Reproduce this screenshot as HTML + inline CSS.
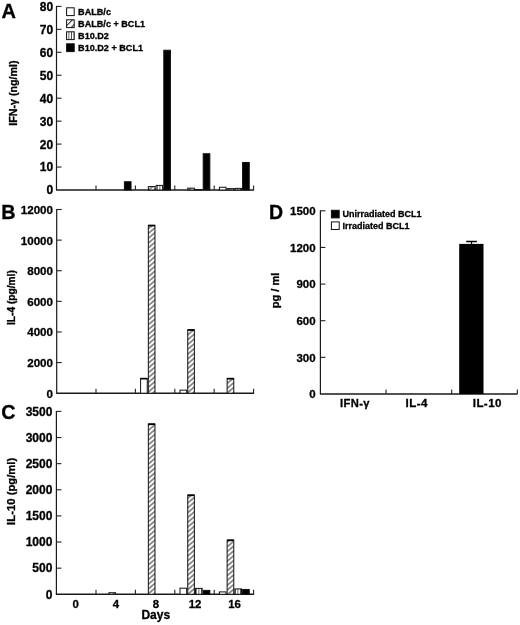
<!DOCTYPE html><html><head><meta charset="utf-8"><title>Figure</title><style>
html,body{margin:0;padding:0;background:#fff;}
svg{display:block;}
text{font-family:'Liberation Sans', Arial, Helvetica, sans-serif;font-weight:bold;fill:#000;stroke:#000;stroke-width:0.3px;}
.ax{stroke:#1a1a1a;stroke-width:1.2;}
.xa{stroke-width:1.6;}
.tk{stroke:#222;stroke-width:1.1;}
.bar{stroke:#111;stroke-width:1;}
</style></head><body>
<svg width="520" height="625" viewBox="0 0 520 625">
<defs>
<pattern id="hatch" patternUnits="userSpaceOnUse" width="3.68" height="3.68" patternTransform="rotate(-40)"><rect width="3.68" height="3.68" fill="#fff"/><line x1="0" y1="1.84" x2="3.68" y2="1.84" stroke="#000" stroke-width="0.85"/></pattern>
<pattern id="vstripe" patternUnits="userSpaceOnUse" width="2.6" height="4"><rect width="2.6" height="4" fill="#fff"/><line x1="1.3" y1="0" x2="1.3" y2="4" stroke="#333" stroke-width="0.8"/></pattern>
<pattern id="hatchL" patternUnits="userSpaceOnUse" width="4.5" height="4.5" patternTransform="rotate(-45)"><rect width="4.5" height="4.5" fill="#fff"/><line x1="0" y1="2.25" x2="4.5" y2="2.25" stroke="#222" stroke-width="1"/></pattern></defs>
<rect width="520" height="625" fill="#fff"/>
<text x="1.6" y="17.6" style="font-size:20px">A</text>
<line x1="56.5" y1="5.9" x2="56.5" y2="190" class="ax"/>
<line x1="56" y1="190" x2="254.1" y2="190" class="ax xa"/>
<text x="53.2" y="194.4" class="tl" style="font-size:12px" text-anchor="end">0</text>
<line x1="56.5" y1="167.05" x2="61.5" y2="167.05" class="tk"/>
<text x="53.2" y="171.45" class="tl" style="font-size:12px" text-anchor="end">10</text>
<line x1="56.5" y1="144.1" x2="61.5" y2="144.1" class="tk"/>
<text x="53.2" y="148.5" class="tl" style="font-size:12px" text-anchor="end">20</text>
<line x1="56.5" y1="121.15" x2="61.5" y2="121.15" class="tk"/>
<text x="53.2" y="125.55" class="tl" style="font-size:12px" text-anchor="end">30</text>
<line x1="56.5" y1="98.2" x2="61.5" y2="98.2" class="tk"/>
<text x="53.2" y="102.6" class="tl" style="font-size:12px" text-anchor="end">40</text>
<line x1="56.5" y1="75.25" x2="61.5" y2="75.25" class="tk"/>
<text x="53.2" y="79.65" class="tl" style="font-size:12px" text-anchor="end">50</text>
<line x1="56.5" y1="52.3" x2="61.5" y2="52.3" class="tk"/>
<text x="53.2" y="56.7" class="tl" style="font-size:12px" text-anchor="end">60</text>
<line x1="56.5" y1="29.35" x2="61.5" y2="29.35" class="tk"/>
<text x="53.2" y="33.75" class="tl" style="font-size:12px" text-anchor="end">70</text>
<line x1="56.5" y1="6.4" x2="61.5" y2="6.4" class="tk"/>
<text x="53.2" y="10.8" class="tl" style="font-size:12px" text-anchor="end">80</text>
<line x1="96" y1="190" x2="96" y2="185.5" class="tk"/>
<line x1="135.4" y1="190" x2="135.4" y2="185.5" class="tk"/>
<line x1="174.8" y1="190" x2="174.8" y2="185.5" class="tk"/>
<line x1="214.2" y1="190" x2="214.2" y2="185.5" class="tk"/>
<line x1="253.6" y1="190" x2="253.6" y2="185.5" class="tk"/>
<rect x="124.39" y="181.74" width="6.65" height="8.26" fill="#000" class="bar"/>
<rect x="148.33" y="186.56" width="6.65" height="3.44" fill="url(#hatch)" class="bar"/>
<rect x="156.06" y="185.41" width="6.65" height="4.59" fill="url(#vstripe)" class="bar"/>
<rect x="163.79" y="50.23" width="6.65" height="139.77" fill="#000" class="bar"/>
<rect x="187.73" y="188.16" width="6.65" height="1.84" fill="url(#hatch)" class="bar"/>
<rect x="195.46" y="189.54" width="6.65" height="0.46" fill="url(#vstripe)" class="bar"/>
<rect x="203.19" y="153.74" width="6.65" height="36.26" fill="#000" class="bar"/>
<rect x="219.4" y="187.25" width="6.65" height="2.75" fill="#fff" class="bar"/>
<rect x="227.13" y="188.62" width="6.65" height="1.38" fill="url(#hatch)" class="bar"/>
<rect x="234.86" y="188.39" width="6.65" height="1.61" fill="url(#vstripe)" class="bar"/>
<rect x="242.59" y="162.46" width="6.65" height="27.54" fill="#000" class="bar"/>
<rect x="66.6" y="7.8" width="7.6" height="7.8" fill="#fff" class="bar"/>
<text x="78.1" y="14.9" style="font-size:9.1px">BALB/c</text>
<rect x="66.6" y="19.8" width="7.6" height="7.8" fill="url(#hatchL)" class="bar"/>
<text x="78.1" y="26.8" style="font-size:9.1px">BALB/c + BCL1</text>
<rect x="66.6" y="31.8" width="7.6" height="7.8" fill="url(#vstripe)" class="bar"/>
<text x="78.1" y="38.7" style="font-size:9.1px">B10.D2</text>
<rect x="66.6" y="43.8" width="7.6" height="7.8" fill="#000" class="bar"/>
<text x="78.1" y="50.6" style="font-size:9.1px">B10.D2 + BCL1</text>
<text transform="translate(16.8,93.1) rotate(-90)" text-anchor="middle" style="font-size:10.7px">IFN-γ (ng/ml)</text>
<text x="1.3" y="218.8" style="font-size:19.8px">B</text>
<line x1="56.7" y1="209" x2="56.7" y2="393.2" class="ax"/>
<line x1="56.2" y1="393.2" x2="254.1" y2="393.2" class="ax xa"/>
<text x="53" y="397.6" class="tl" style="font-size:11.6px" text-anchor="end">0</text>
<line x1="56.7" y1="362.58" x2="61.7" y2="362.58" class="tk"/>
<text x="53" y="366.98" class="tl" style="font-size:11.6px" text-anchor="end">2000</text>
<line x1="56.7" y1="331.97" x2="61.7" y2="331.97" class="tk"/>
<text x="53" y="336.37" class="tl" style="font-size:11.6px" text-anchor="end">4000</text>
<line x1="56.7" y1="301.35" x2="61.7" y2="301.35" class="tk"/>
<text x="53" y="305.75" class="tl" style="font-size:11.6px" text-anchor="end">6000</text>
<line x1="56.7" y1="270.73" x2="61.7" y2="270.73" class="tk"/>
<text x="53" y="275.13" class="tl" style="font-size:11.6px" text-anchor="end">8000</text>
<line x1="56.7" y1="240.12" x2="61.7" y2="240.12" class="tk"/>
<text x="53" y="244.52" class="tl" style="font-size:11.6px" text-anchor="end">10000</text>
<line x1="56.7" y1="209.5" x2="61.7" y2="209.5" class="tk"/>
<text x="53" y="213.9" class="tl" style="font-size:11.6px" text-anchor="end">12000</text>
<line x1="96" y1="393.2" x2="96" y2="388.7" class="tk"/>
<line x1="135.4" y1="393.2" x2="135.4" y2="388.7" class="tk"/>
<line x1="174.8" y1="393.2" x2="174.8" y2="388.7" class="tk"/>
<line x1="214.2" y1="393.2" x2="214.2" y2="388.7" class="tk"/>
<line x1="253.6" y1="393.2" x2="253.6" y2="388.7" class="tk"/>
<rect x="140.6" y="378.4" width="6.65" height="14.8" fill="#fff" class="bar"/>
<line x1="140.6" y1="378.7" x2="147.25" y2="378.7" stroke="#000" stroke-width="1.6"/>
<rect x="148.33" y="225.31" width="6.65" height="167.89" fill="url(#hatch)" class="bar"/>
<line x1="148.33" y1="225.61" x2="154.98" y2="225.61" stroke="#000" stroke-width="1.6"/>
<rect x="180" y="390.14" width="6.65" height="3.06" fill="#fff" class="bar"/>
<rect x="187.73" y="329.76" width="6.65" height="63.44" fill="url(#hatch)" class="bar"/>
<line x1="187.73" y1="330.06" x2="194.38" y2="330.06" stroke="#000" stroke-width="1.6"/>
<rect x="227.13" y="378.4" width="6.65" height="14.8" fill="url(#hatch)" class="bar"/>
<line x1="227.13" y1="378.7" x2="233.78" y2="378.7" stroke="#000" stroke-width="1.6"/>
<text transform="translate(14.6,297.6) rotate(-90)" text-anchor="middle" style="font-size:10.2px">IL-4 (pg/ml)</text>
<text x="1.2" y="419.4" style="font-size:19.8px">C</text>
<line x1="56.4" y1="410.9" x2="56.4" y2="594.3" class="ax"/>
<line x1="55.9" y1="594.3" x2="254.1" y2="594.3" class="ax xa"/>
<text x="52.4" y="598.6" class="tl" style="font-size:12.0px" text-anchor="end">0</text>
<line x1="56.4" y1="568.17" x2="61.4" y2="568.17" class="tk"/>
<text x="52.4" y="572.47" class="tl" style="font-size:12.0px" text-anchor="end">500</text>
<line x1="56.4" y1="542.04" x2="61.4" y2="542.04" class="tk"/>
<text x="52.4" y="546.34" class="tl" style="font-size:12.0px" text-anchor="end">1000</text>
<line x1="56.4" y1="515.91" x2="61.4" y2="515.91" class="tk"/>
<text x="52.4" y="520.21" class="tl" style="font-size:12.0px" text-anchor="end">1500</text>
<line x1="56.4" y1="489.79" x2="61.4" y2="489.79" class="tk"/>
<text x="52.4" y="494.09" class="tl" style="font-size:12.0px" text-anchor="end">2000</text>
<line x1="56.4" y1="463.66" x2="61.4" y2="463.66" class="tk"/>
<text x="52.4" y="467.96" class="tl" style="font-size:12.0px" text-anchor="end">2500</text>
<line x1="56.4" y1="437.53" x2="61.4" y2="437.53" class="tk"/>
<text x="52.4" y="441.83" class="tl" style="font-size:12.0px" text-anchor="end">3000</text>
<line x1="56.4" y1="411.4" x2="61.4" y2="411.4" class="tk"/>
<text x="52.4" y="415.7" class="tl" style="font-size:12.0px" text-anchor="end">3500</text>
<line x1="96" y1="594.3" x2="96" y2="589.8" class="tk"/>
<line x1="135.4" y1="594.3" x2="135.4" y2="589.8" class="tk"/>
<line x1="174.8" y1="594.3" x2="174.8" y2="589.8" class="tk"/>
<line x1="214.2" y1="594.3" x2="214.2" y2="589.8" class="tk"/>
<line x1="253.6" y1="594.3" x2="253.6" y2="589.8" class="tk"/>
<rect x="108.93" y="592.73" width="6.65" height="1.57" fill="url(#hatch)" class="bar"/>
<rect x="148.33" y="423.94" width="6.65" height="170.36" fill="url(#hatch)" class="bar"/>
<line x1="148.33" y1="424.24" x2="154.98" y2="424.24" stroke="#000" stroke-width="1.6"/>
<rect x="180" y="588.19" width="6.65" height="6.11" fill="#fff" class="bar"/>
<rect x="187.73" y="495.01" width="6.65" height="99.29" fill="url(#hatch)" class="bar"/>
<line x1="187.73" y1="495.31" x2="194.38" y2="495.31" stroke="#000" stroke-width="1.6"/>
<rect x="195.46" y="588.39" width="6.65" height="5.91" fill="url(#vstripe)" class="bar"/>
<rect x="203.19" y="590.38" width="6.65" height="3.92" fill="#000" class="bar"/>
<rect x="219.4" y="591.9" width="6.65" height="2.4" fill="#fff" class="bar"/>
<rect x="227.13" y="540.06" width="6.65" height="54.24" fill="url(#hatch)" class="bar"/>
<line x1="227.13" y1="540.36" x2="233.78" y2="540.36" stroke="#000" stroke-width="1.6"/>
<rect x="234.86" y="588.92" width="6.65" height="5.38" fill="url(#vstripe)" class="bar"/>
<rect x="242.59" y="589.44" width="6.65" height="4.86" fill="#000" class="bar"/>
<text transform="translate(15.4,491.3) rotate(-90)" text-anchor="middle" style="font-size:11.3px">IL-10 (pg/ml)</text>
<text x="75.6" y="607.6" text-anchor="middle" style="font-size:11.4px">0</text>
<text x="116" y="607.6" text-anchor="middle" style="font-size:11.4px">4</text>
<text x="155.8" y="607.6" text-anchor="middle" style="font-size:11.4px">8</text>
<text x="195" y="607.6" text-anchor="middle" style="font-size:11.4px">12</text>
<text x="234.6" y="607.6" text-anchor="middle" style="font-size:11.4px">16</text>
<text x="155.8" y="619.4" text-anchor="middle" style="font-size:12px">Days</text>
<text x="268.9" y="219" style="font-size:19.5px">D</text>
<line x1="320.4" y1="210.3" x2="320.4" y2="394" class="ax"/>
<line x1="319.9" y1="394" x2="517.5" y2="394" class="ax xa"/>
<text x="315.6" y="398.3" class="tl" style="font-size:11.5px" text-anchor="end">0</text>
<line x1="320.4" y1="357.36" x2="325.4" y2="357.36" class="tk"/>
<text x="315.6" y="361.66" class="tl" style="font-size:11.5px" text-anchor="end">300</text>
<line x1="320.4" y1="320.72" x2="325.4" y2="320.72" class="tk"/>
<text x="315.6" y="325.02" class="tl" style="font-size:11.5px" text-anchor="end">600</text>
<line x1="320.4" y1="284.08" x2="325.4" y2="284.08" class="tk"/>
<text x="315.6" y="288.38" class="tl" style="font-size:11.5px" text-anchor="end">900</text>
<line x1="320.4" y1="247.44" x2="325.4" y2="247.44" class="tk"/>
<text x="315.6" y="251.74" class="tl" style="font-size:11.5px" text-anchor="end">1200</text>
<line x1="320.4" y1="210.8" x2="325.4" y2="210.8" class="tk"/>
<text x="315.6" y="215.1" class="tl" style="font-size:11.5px" text-anchor="end">1500</text>
<line x1="386.05" y1="394" x2="386.05" y2="389.5" class="tk"/>
<line x1="451.7" y1="394" x2="451.7" y2="389.5" class="tk"/>
<line x1="517.35" y1="394" x2="517.35" y2="389.5" class="tk"/>
<rect x="459.2" y="243.9" width="24.3" height="150.1" fill="#000"/>
<line x1="471.5" y1="243.9" x2="471.5" y2="241.5" stroke="#000" stroke-width="1.2"/>
<line x1="466.2" y1="241.5" x2="476.9" y2="241.5" stroke="#000" stroke-width="1.5"/>
<rect x="331.4" y="210.3" width="7.8" height="7.6" fill="#000" class="bar"/>
<rect x="331.4" y="221.9" width="7.8" height="7.6" fill="#fff" class="bar"/>
<text x="342.4" y="216.7" style="font-size:9px">Unirradiated BCL1</text>
<text x="342.4" y="228.7" style="font-size:9px">Irradiated BCL1</text>
<text transform="translate(278.6,290.5) rotate(-90)" text-anchor="middle" style="font-size:11px">pg / ml</text>
<text x="355" y="406.8" text-anchor="middle" style="font-size:11.2px;letter-spacing:0.4px">IFN-γ</text>
<text x="416.7" y="406.8" text-anchor="middle" style="font-size:11.6px;letter-spacing:0.4px">IL-4</text>
<text x="487.3" y="406.8" text-anchor="middle" style="font-size:11.6px;letter-spacing:0.4px">IL-10</text>
</svg></body></html>
